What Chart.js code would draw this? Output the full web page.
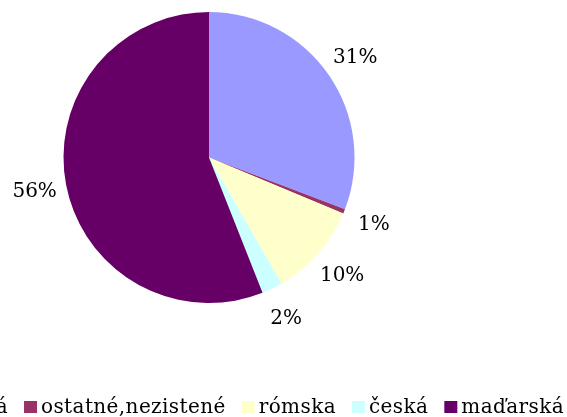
<!DOCTYPE html>
<html><head><meta charset="utf-8">
<script src="https://cdn.jsdelivr.net/npm/chart.js@4/dist/chart.umd.min.js"></script>
<style>html,body{margin:0;padding:0;background:#fff;overflow:hidden}canvas{display:block}</style>
</head><body><canvas id="c" width="567" height="417"></canvas>
<script>
const categories = ['slovenská', 'ostatné,nezistené', 'rómska', 'česká', 'maďarská'];
const shares = [30.8, 0.5, 10.4, 2.3, 56.0];
const colors = ['#9999FF', '#993366', '#FFFFCC', '#CCFFFF', '#660066'];
const FONT = '"DejaVu Serif", serif';

const pctLabels = {
  id: 'pctLabels',
  afterDatasetsDraw(chart) {
    const ctx = chart.ctx;
    const meta = chart.getDatasetMeta(0);
    const data = chart.data.datasets[0].data;
    const total = data.reduce((a, b) => a + b, 0);
    ctx.save();
    ctx.font = '20px ' + FONT;
    ctx.fillStyle = '#000';
    ctx.textAlign = 'center';
    ctx.textBaseline = 'middle';
    meta.data.forEach((arc, i) => {
      const p = arc.getProps(['x', 'y', 'startAngle', 'endAngle', 'outerRadius'], true);
      const mid = (p.startAngle + p.endAngle) / 2;
      const r = p.outerRadius + 32;
      ctx.fillText(Math.round(data[i] / total * 100 + 1e-9) + '%', p.x + Math.cos(mid) * r, p.y + Math.sin(mid) * r + 1);
    });
    ctx.restore();
  }
};

const bottomLegend = {
  id: 'bottomLegend',
  afterDraw(chart) {
    const ctx = chart.ctx;
    const ds = chart.data.datasets[0];
    ctx.save();
    ctx.font = '20px ' + FONT;
    if ('letterSpacing' in ctx) ctx.letterSpacing = '0.4px';
    ctx.textBaseline = 'alphabetic';
    ctx.textAlign = 'left';
    const baseY = 413, box = 13, gap = 4, sep = 16;
    let x = chart.width - 3;
    for (let i = chart.data.labels.length - 1; i >= 0; i--) {
      const t = chart.data.labels[i];
      const w = ctx.measureText(t).width;
      const tx = x - w;
      ctx.fillStyle = '#000';
      ctx.fillText(t, tx, baseY);
      const bx = tx - gap - box;
      ctx.fillStyle = ds.backgroundColor[i];
      ctx.fillRect(bx, baseY - 12, box, 12);
      x = bx - sep;
    }
    ctx.restore();
  }
};

new Chart(document.getElementById('c'), {
  type: 'pie',
  data: {
    labels: categories,
    datasets: [{
      data: shares,
      backgroundColor: colors,
      borderWidth: 0,
      hoverOffset: 0,
      offset: 0
    }]
  },
  options: {
    responsive: false,
    animation: false,
    layout: { padding: { left: 0, right: 149, top: 12, bottom: 114 } },
    plugins: { legend: { display: false }, tooltip: { enabled: false } }
  },
  plugins: [pctLabels, bottomLegend]
});
</script>
</body></html>
